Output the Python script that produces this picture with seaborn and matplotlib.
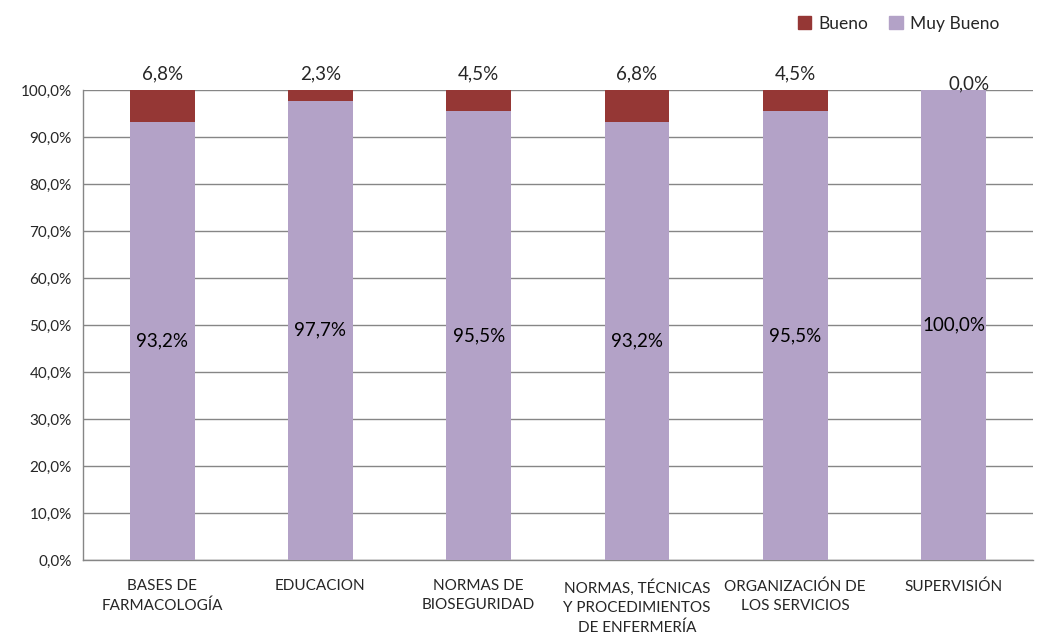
import numpy as np
import pandas as pd
import matplotlib
matplotlib.use("Agg")
import matplotlib.pyplot as plt
from matplotlib.patches import Patch
from matplotlib.ticker import MultipleLocator, FuncFormatter
import seaborn as sns

categorias = ["BASES DE\nFARMACOLOGÍA", "EDUCACION", "NORMAS DE\nBIOSEGURIDAD",
              "NORMAS, TÉCNICAS\nY PROCEDIMIENTOS\nDE ENFERMERÍA",
              "ORGANIZACIÓN DE\nLOS SERVICIOS", "SUPERVISIÓN"]
muy_bueno = [93.2, 97.7, 95.5, 93.2, 95.5, 100.0]
bueno = [6.8, 2.3, 4.5, 6.8, 4.5, 0.0]

col_bueno = "#953735"
col_muy = "#B3A2C7"
gris = "#868686"

sns.set_style("white")
plt.rcParams["font.family"] = ["Lato", "DejaVu Sans"]

df = pd.DataFrame({"cat": categorias, "muy": muy_bueno, "bueno": bueno})
df["total"] = df["muy"] + df["bueno"]

fig = plt.figure(figsize=(10.41, 6.38), dpi=100)
ax = fig.add_axes([0.0797, 0.1223, 0.9123, 0.7367])

# total first (Bueno on top), then Muy Bueno over it
sns.barplot(data=df, x="cat", y="total", color=col_bueno, width=0.41,
            saturation=1, linewidth=0, ax=ax, zorder=3)
sns.barplot(data=df, x="cat", y="muy", color=col_muy, width=0.41,
            saturation=1, linewidth=0, ax=ax, zorder=4)

def pct(v):
    return f"{v:.1f}".replace(".", ",") + "%"

for i, row in df.iterrows():
    ax.text(i, row["muy"] / 2, pct(row["muy"]), ha="center", va="center",
            fontsize=13.5, color="black", zorder=5)
    if row["bueno"] > 0:
        ax.text(i, row["total"] + 1.6, pct(row["bueno"]), ha="center",
                va="bottom", fontsize=13.5, zorder=5)
    else:
        ax.text(i + 0.1, row["total"] - 0.5, pct(row["bueno"]), ha="center",
                va="bottom", fontsize=13.5, zorder=5)

ax.set_xlim(-0.5, len(categorias) - 0.5)
ax.set_ylim(0, 100)
ax.yaxis.set_major_locator(MultipleLocator(10))
ax.yaxis.set_major_formatter(FuncFormatter(lambda v, p: pct(v)))
ax.yaxis.grid(True, color=gris, linewidth=1, zorder=0)
ax.set_axisbelow(True)

# category ticks sit between the bars
ax.set_xticks(np.arange(-0.5, len(categorias)), minor=False)
ax.set_xticklabels([])
ax.set_xticks(np.arange(len(categorias)), minor=True)
ax.set_xticklabels(categorias, minor=True, fontsize=11, linespacing=1.45)
ax.tick_params(axis="x", which="major", length=6, color=gris, direction="out")
ax.tick_params(axis="x", which="minor", length=0, pad=14)
ax.tick_params(axis="y", length=5, color=gris, direction="out", labelsize=11, pad=3)
ax.set_xlabel("")
ax.set_ylabel("")

for s in ["top", "right"]:
    ax.spines[s].set_visible(False)
for s in ["left", "bottom"]:
    ax.spines[s].set_color(gris)
    ax.spines[s].set_linewidth(1)

handles = [Patch(color=col_bueno, label="Bueno"), Patch(color=col_muy, label="Muy Bueno")]
fig.legend(handles=handles, loc="upper right", bbox_to_anchor=(0.975, 1.0), ncol=2,
           frameon=False, fontsize=12.5, handlelength=0.8, handleheight=0.8,
           handletextpad=0.4, columnspacing=1.2)

fig.savefig("out.png", dpi=100)
